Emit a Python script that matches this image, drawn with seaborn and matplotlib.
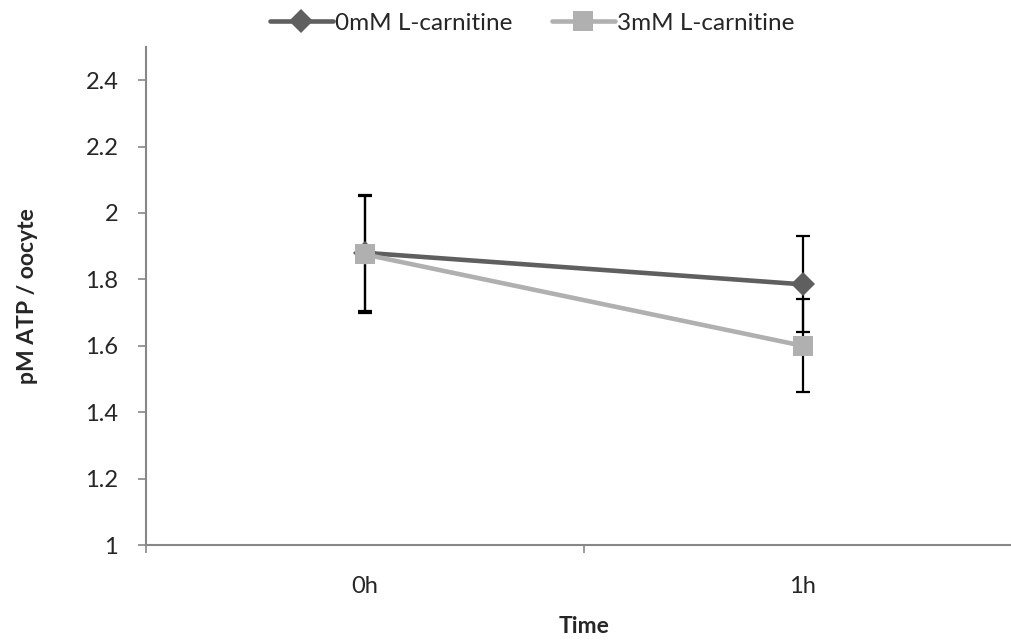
import numpy as np
import pandas as pd
import seaborn as sns
import matplotlib.pyplot as plt

# values
times = ["0h", "1h"]
series = ["0mM L-carnitine", "3mM L-carnitine"]
atp_0mm = [1.88, 1.785]
atp_3mm = [1.875, 1.60]
err_0mm = [0.175, 0.145]
err_3mm = [0.175, 0.14]
yticks = [1, 1.2, 1.4, 1.6, 1.8, 2, 2.2, 2.4]
ytick_labels = ["1", "1.2", "1.4", "1.6", "1.8", "2", "2.2", "2.4"]

colors = ["#5f5f5f", "#b0b0b0"]
markers = ["D", "s"]

sns.set_theme(style="white")
plt.rcParams["font.family"] = ["Lato", "DejaVu Sans"]

df = pd.DataFrame({
    "pos": list(range(len(times))) * 2,
    "time": times * 2,
    "atp": atp_0mm + atp_3mm,
    "err": err_0mm + err_3mm,
    "serie": [series[0]] * len(times) + [series[1]] * len(times),
})

fig = plt.figure(figsize=(10.12, 6.42), dpi=100)
ax = fig.add_axes([0.1443, 0.151, 0.865, 0.776])

# error bars first, drawn behind the lines
for s in series:
    d = df[df["serie"] == s]
    ax.errorbar(d["pos"], d["atp"], yerr=d["err"], fmt="none", ecolor="black",
                elinewidth=1.6, capsize=5, capthick=1.6, zorder=1)

sns.lineplot(data=df, x="pos", y="atp", hue="serie", style="serie",
             palette=colors, markers=markers, dashes=False, linewidth=3.3,
             markersize=12, markeredgewidth=0, ax=ax, zorder=3)
# square a bit bigger than the diamond
for l in ax.lines:
    if l.get_marker() == "s":
        l.set_markersize(15)
    elif l.get_marker() == "D":
        l.set_markersize(12)

ax.set_xlim(-0.5, 1.5)
ax.set_ylim(1, 2.5)
ax.set_yticks(yticks)
ax.set_yticklabels(ytick_labels)
ax.set_xticks(range(len(times)))
ax.set_xticklabels(times)
ax.set_xticks([-0.5, 0.5, 1.5], minor=True)
ax.tick_params(axis="x", which="major", length=0, pad=22, labelsize=17)
ax.tick_params(axis="x", which="minor", length=6, width=1.2, color="#878787", direction="out", bottom=True)
ax.tick_params(axis="y", which="major", length=6, width=1.2, color="#878787", direction="out", left=True, pad=14, labelsize=17)

for side in ["top", "right"]:
    ax.spines[side].set_visible(False)
for side in ["left", "bottom"]:
    ax.spines[side].set_color("#878787")
    ax.spines[side].set_linewidth(1.5)

ax.set_xlabel("Time", fontsize=16.5, fontweight="bold", labelpad=14)
ax.set_ylabel("pM ATP / oocyte", fontsize=16.5, fontweight="bold", labelpad=34)

handles, labels = ax.get_legend_handles_labels()
ax.legend(handles, labels, loc="upper center", bbox_to_anchor=(0.441, 1.112),
          ncol=2, frameon=False, fontsize=17.5, handlelength=2.6, handletextpad=0.1,
          columnspacing=1.6)

fig.savefig("out.png", dpi=100)
